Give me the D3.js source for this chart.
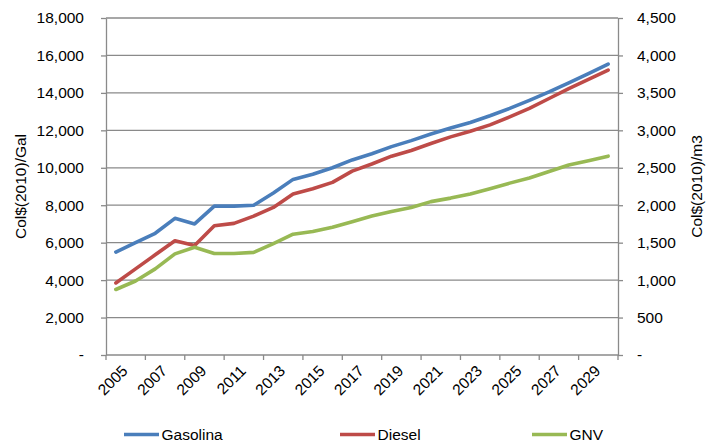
<!DOCTYPE html>
<html><head><meta charset="utf-8">
<script src="https://cdn.jsdelivr.net/npm/d3@7/dist/d3.min.js"></script>
<style>
body{margin:0;background:#fff;}
svg{display:block;font-family:"Liberation Sans",Arial,sans-serif;}
</style></head>
<body><svg id="c" width="706" height="447"></svg>
<script>
const years = [2005,2006,2007,2008,2009,2010,2011,2012,2013,2014,2015,2016,2017,2018,2019,2020,2021,2022,2023,2024,2025,2026,2027,2028,2029,2030];
const gasolina = [5500,6000,6500,7300,7000,7950,7950,8000,8650,9380,9650,10000,10420,10750,11130,11450,11800,12120,12420,12780,13170,13600,14050,14530,15030,15540];
const diesel = [3850,4600,5350,6100,5850,6900,7030,7420,7880,8600,8880,9220,9820,10200,10620,10920,11300,11650,11950,12290,12720,13170,13700,14230,14720,15220];
// GNV on right axis (Col$(2010)/m3)
const gnv = [875,988,1150,1350,1438,1355,1355,1370,1488,1613,1648,1705,1780,1855,1915,1970,2048,2095,2150,2220,2295,2363,2450,2538,2595,2655];
const leftTicks = [0,2000,4000,6000,8000,10000,12000,14000,16000,18000];
const rightTicks = [0,500,1000,1500,2000,2500,3000,3500,4000,4500];
const seriesNames = ["Gasolina","Diesel","GNV"];
const colors = ["#4a7ebb","#be4b48","#98b954"];

const svg = d3.select("#c");
const L=106, R=618, T=18, B=355;
const x = d3.scaleBand().domain(years).range([L,R]).padding(0);
const yL = d3.scaleLinear().domain([0,18000]).range([B,T]);
const yR = d3.scaleLinear().domain([0,4500]).range([B,T]);
const fmt = v => v===0 ? "-" : d3.format(",")(v);
const gridCol="#8a8a8a", fs="15.5px";

// gridlines
svg.append("g").selectAll("line").data(leftTicks.filter(d=>d>0)).join("line")
  .attr("x1",L).attr("x2",R).attr("y1",d=>yL(d)).attr("y2",d=>yL(d))
  .attr("stroke",gridCol).attr("stroke-width",1.3);

// left axis
const gl = svg.append("g").attr("transform",`translate(${L},0)`)
  .call(d3.axisLeft(yL).tickValues(leftTicks).tickFormat(fmt).tickSize(5).tickSizeOuter(0).tickPadding(17));
// right axis
const gr = svg.append("g").attr("transform",`translate(${R},0)`)
  .call(d3.axisRight(yR).tickValues(rightTicks).tickFormat(fmt).tickSize(5).tickSizeOuter(0).tickPadding(14));
[gl,gr].forEach(g=>{
  g.selectAll(".domain").attr("stroke",gridCol).attr("stroke-width",1.3);
  g.selectAll(".tick line").attr("stroke",gridCol).attr("stroke-width",1.3);
  g.selectAll("text").attr("font-size",fs).attr("fill","#000").attr("font-family","Liberation Sans, Arial, sans-serif");
});

// x axis
const gx = svg.append("g");
gx.append("line").attr("x1",L).attr("x2",R).attr("y1",B).attr("y2",B).attr("stroke",gridCol).attr("stroke-width",1.3);
const tickYears = years.filter((d,i)=>i%2===0);
gx.selectAll("line.t").data(tickYears.concat(["end"])).join("line").attr("class","t")
  .attr("x1",d=>d==="end"?R:x(d)).attr("x2",d=>d==="end"?R:x(d))
  .attr("y1",B).attr("y2",B+5).attr("stroke",gridCol).attr("stroke-width",1.3);
gx.selectAll("text").data(tickYears).join("text")
  .attr("transform",d=>`translate(${x(d)+x.bandwidth()/2+5},${B+9}) rotate(-45)`)
  .attr("text-anchor","end").attr("dy","0.71em").attr("font-size",fs).attr("fill","#000")
  .text(d=>d);

// lines
const lineL = d3.line().x((d,i)=>x(years[i])+x.bandwidth()/2).y(d=>yL(d));
const lineR = d3.line().x((d,i)=>x(years[i])+x.bandwidth()/2).y(d=>yR(d));
const g = svg.append("g").attr("fill","none").attr("stroke-width",3.6).attr("stroke-linejoin","round").attr("stroke-linecap","round");
g.append("path").attr("d",lineL(gasolina)).attr("stroke",colors[0]);
g.append("path").attr("d",lineL(diesel)).attr("stroke",colors[1]);
g.append("path").attr("d",lineR(gnv)).attr("stroke",colors[2]);

// axis titles
svg.append("text").attr("transform",`translate(${26},${(T+B)/2}) rotate(-90)`)
  .attr("text-anchor","middle").attr("font-size",fs).attr("fill","#000").text("Col$(2010)/Gal");
svg.append("text").attr("transform",`translate(${702},${(T+B)/2}) rotate(-90)`)
  .attr("text-anchor","middle").attr("font-size",fs).attr("fill","#000").text("Col$(2010)/m3");

// legend
const legX = [124,340,532];
const lg = svg.append("g");
seriesNames.forEach((n,i)=>{
  lg.append("line").attr("x1",legX[i]).attr("x2",legX[i]+35).attr("y1",434.5).attr("y2",434.5)
    .attr("stroke",colors[i]).attr("stroke-width",3.6);
  lg.append("text").attr("x",legX[i]+37.5).attr("y",434.5).attr("dy","0.35em")
    .attr("font-size",fs).attr("fill","#000").text(n);
});
</script></body></html>
